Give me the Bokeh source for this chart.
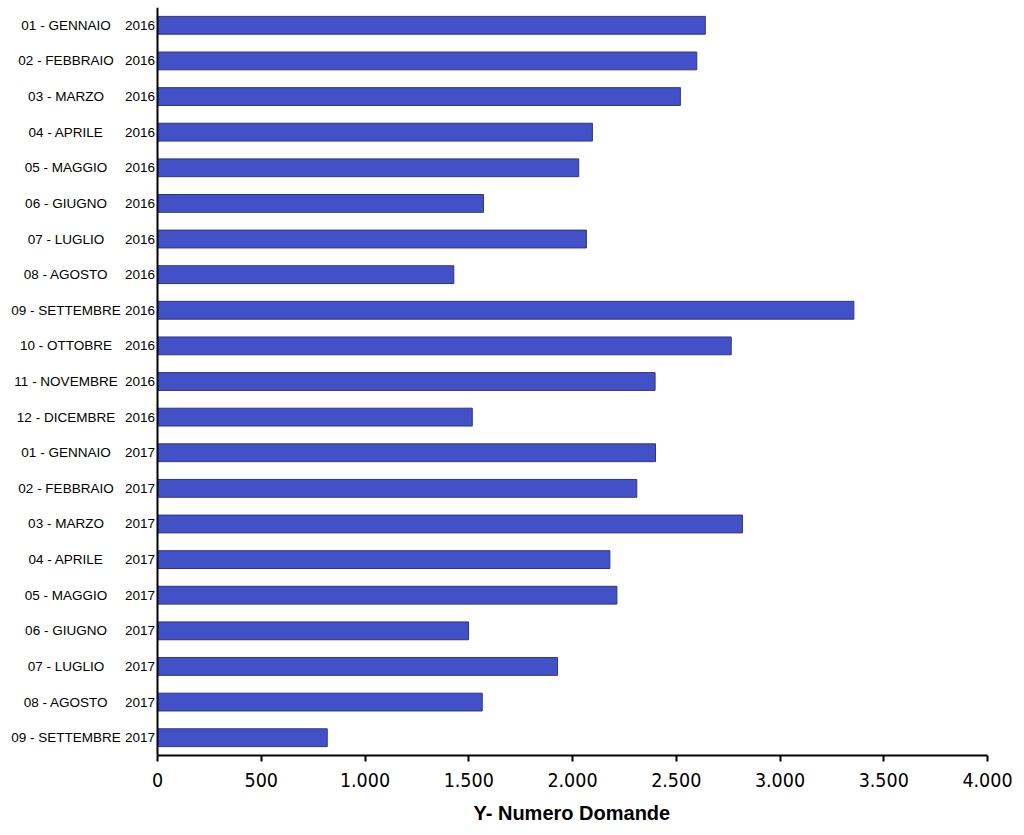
from bokeh.plotting import figure
from bokeh.models import ColumnDataSource, FactorRange, Range1d, FixedTicker, Span, Title
from bokeh.core.properties import value
from bokeh.embed import file_html
from bokeh.resources import INLINE

months = ["01 - GENNAIO", "02 - FEBBRAIO", "03 - MARZO", "04 - APRILE", "05 - MAGGIO",
          "06 - GIUGNO", "07 - LUGLIO", "08 - AGOSTO", "09 - SETTEMBRE", "10 - OTTOBRE",
          "11 - NOVEMBRE", "12 - DICEMBRE",
          "01 - GENNAIO", "02 - FEBBRAIO", "03 - MARZO", "04 - APRILE", "05 - MAGGIO",
          "06 - GIUGNO", "07 - LUGLIO", "08 - AGOSTO", "09 - SETTEMBRE"]
years = ["2016"] * 12 + ["2017"] * 9
values = [2640, 2599, 2520, 2096, 2030, 1571, 2067, 1428, 3356, 2765, 2398, 1517,
          2400, 2310, 2819, 2180, 2214, 1499, 1928, 1565, 818]
tick_values = [0, 500, 1000, 1500, 2000, 2500, 3000, 3500, 4000]
tick_labels = ["0", "500", "1.000", "1.500", "2.000", "2.500", "3.000", "3.500", "4.000"]
x_title = "Y- Numero Domande"

factors = [f"{m} {y}" for m, y in zip(months, years)]
src = ColumnDataSource(dict(cat=factors, val=values, month=months, year=years))

# frame: 987 px wide; value axis runs 0..4000 over the right-most 830 px
px_per_unit = 830 / 4000
x_start = -157 / px_per_unit

p = figure(y_range=FactorRange(factors=list(reversed(factors)), range_padding=0),
           x_range=Range1d(x_start, 4000),
           frame_width=987, frame_height=748,
           min_border_left=0, min_border_right=30, min_border_top=7, min_border_bottom=0,
           output_backend="svg", toolbar_location=None)

p.hbar(y="cat", right="val", left=0, height=0.5, source=src,
       fill_color="#4351C8", line_color="#2E3585", line_width=1)

# category labels: month centred in a column, year right-aligned against the axis
p.text(x=0, y="cat", text="month", source=src, x_offset=-91.5,
       text_align="center", text_baseline="middle",
       text_font=value("Liberation Sans"), text_font_size=value("13.5px"), text_color="black")
p.text(x=0, y="cat", text="year", source=src, x_offset=-2.5,
       text_align="right", text_baseline="middle",
       text_font=value("Liberation Sans"), text_font_size=value("13.5px"), text_color="black")

p.add_layout(Span(location=0, dimension="height", line_color="black", line_width=2))

p.outline_line_color = None
p.xgrid.grid_line_color = None
p.ygrid.grid_line_color = None
p.yaxis.visible = False

xa = p.xaxis[0]
xa.bounds = (0, 4000)
xa.ticker = FixedTicker(ticks=tick_values)
xa.major_label_overrides = {v: l for v, l in zip(tick_values, tick_labels)}
xa.minor_tick_line_color = None
xa.axis_line_width = 2
xa.axis_line_color = "black"
xa.major_tick_line_width = 2
xa.major_tick_line_color = "black"
xa.major_tick_out = 6
xa.major_tick_in = 0
xa.major_label_text_font = "DejaVu Sans Condensed"
xa.major_label_text_font_size = "19.5px"
xa.major_label_text_color = "black"
xa.major_label_standoff = 11

# axis title centred under the 0..4000 part of the axis
p.add_layout(Title(text=x_title, align="left", offset=473, standoff=20,
                   text_font="Liberation Sans", text_font_size="20px",
                   text_font_style="bold", text_color="black"), "below")

open("out.html", "w").write(file_html(p, INLINE))
